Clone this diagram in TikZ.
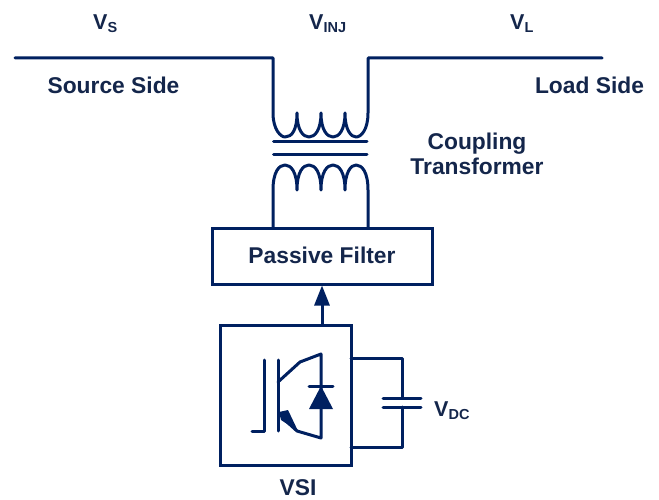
\documentclass[tikz,border=0pt]{standalone}
\usepackage{xcolor}
\usepackage{fontspec}
\setmainfont{Liberation Sans}
\usetikzlibrary{arrows.meta, positioning, calc}
\definecolor{mynavy}{RGB}{0,32,96}
\definecolor{mytext}{RGB}{20,38,75}
\tikzset{
  wire/.style={draw=mynavy, line width=3pt, line cap=round, line join=round},
  box/.style={rectangle, draw=mynavy, line width=3pt, inner sep=0pt},
  label/.style={text=mytext, font=\fontsize{22.8}{25}\selectfont\bfseries, align=center, inner sep=0pt},
  vlabel/.style={text=mytext, font=\fontsize{21.5}{25}\selectfont\bfseries, inner sep=0pt, anchor=base west},
  arrow/.style={-{Triangle[length=20pt,width=15pt]}, wire, line cap=butt}
}
\newcommand{\subv}[2]{#1{\fontsize{14.5}{15}\selectfont\raisebox{-3pt}{#2}}}
\begin{document}
\begin{tikzpicture}[x=1pt, y=-1pt]
  \useasboundingbox (0,0) rectangle (659,500);
  % Labels
  \node[vlabel] (vs) at (93,30) {\subv{V}{S}};
  \node[vlabel] (vinj) at (309,30) {\subv{V}{INJ}};
  \node[vlabel] (vl) at (510,30) {\subv{V}{L}};
  \node[label] (source) at (113.5,85) {Source Side};
  \node[label] (load) at (589.5,85) {Load Side};
  \node[label] (coupling) at (477,154) {Coupling\\Transformer};

  % Filter and VSI
  \node[box, minimum width=220pt, minimum height=56pt, text depth=2pt, label] (filter) at (322,256) {Passive Filter};
  \node[box, minimum width=131pt, minimum height=140pt] (vsi) at (285.5,395) {};
  \node[label, below=13pt of vsi, xshift=12.5pt] (vsilabel) {VSI};
  \draw[arrow] (vsi.north -| filter.south) -- (filter.south);

  % Line and primary winding
  \coordinate (ls) at (15,58);
  \coordinate (lp) at (273,58);
  \coordinate (rp) at (368,58);
  \coordinate (le) at (602,58);
  \draw[wire] (ls) -- (lp) -- (273,113)
    .. controls (273,130) and (281,137) .. (285,137)
    .. controls (292,137) and (297,130) .. (297,113)
    .. controls (297,130) and (303,137) .. (309,137)
    .. controls (315,137) and (321,130) .. (321,113)
    .. controls (321,130) and (327,137) .. (333,137)
    .. controls (339,137) and (345,130) .. (345,113)
    .. controls (345,130) and (351,137) .. (356,137)
    .. controls (361,137) and (368,130) .. (368,113)
    -- (rp) -- (le);

  % Core
  \coordinate (c1l) at (273.5,142);
  \coordinate (c1r) at (367,142);
  \coordinate (c2l) at (273.5,155);
  \coordinate (c2r) at (367,155);
  \draw[wire] (c1l) -- (c1r);
  \draw[wire] (c2l) -- (c2r);

  % Secondary winding
  \draw[wire] (273,228) -- (273,190)
    .. controls (273,172) and (279,165) .. (285,165)
    .. controls (291,165) and (297,172) .. (297,190)
    .. controls (297,172) and (303,165) .. (309,165)
    .. controls (315,165) and (321,172) .. (321,190)
    .. controls (321,172) and (327,165) .. (333,165)
    .. controls (339,165) and (345,172) .. (345,190)
    .. controls (345,172) and (351,165) .. (356,165)
    .. controls (362,165) and (368,172) .. (368,190)
    -- (368,228);

  % Capacitor
  \coordinate (capt) at (402,398);
  \coordinate (capb) at (402,407);
  \node[vlabel] (vdc) at (434,416) {\subv{V}{DC}};
  \draw[wire] (351,358) -- (402,358) -- (capt);
  \draw[wire] (351,447) -- (402,447) -- (capb);
  \draw[wire] (383,398) -- (421,398);
  \draw[wire] (383,407) -- (421,407);

  % IGBT
  \draw[wire] (252,431) -- (264,431) -- (264,360);
  \draw[wire] (278,360) -- (278,431);
  \draw[wire] (278,382) -- (300,362) -- (321,354) -- (321,438) -- (297,431) -- (286,421);
  \fill[mynavy] (279,412) -- (288,410) -- (298,431) -- (281,420) -- cycle;

  % Diode
  \fill[mynavy] (309,409) -- (333,409) -- (321,386) -- cycle;
  \draw[wire] (309,386) -- (333,386);
\end{tikzpicture}
\end{document}
